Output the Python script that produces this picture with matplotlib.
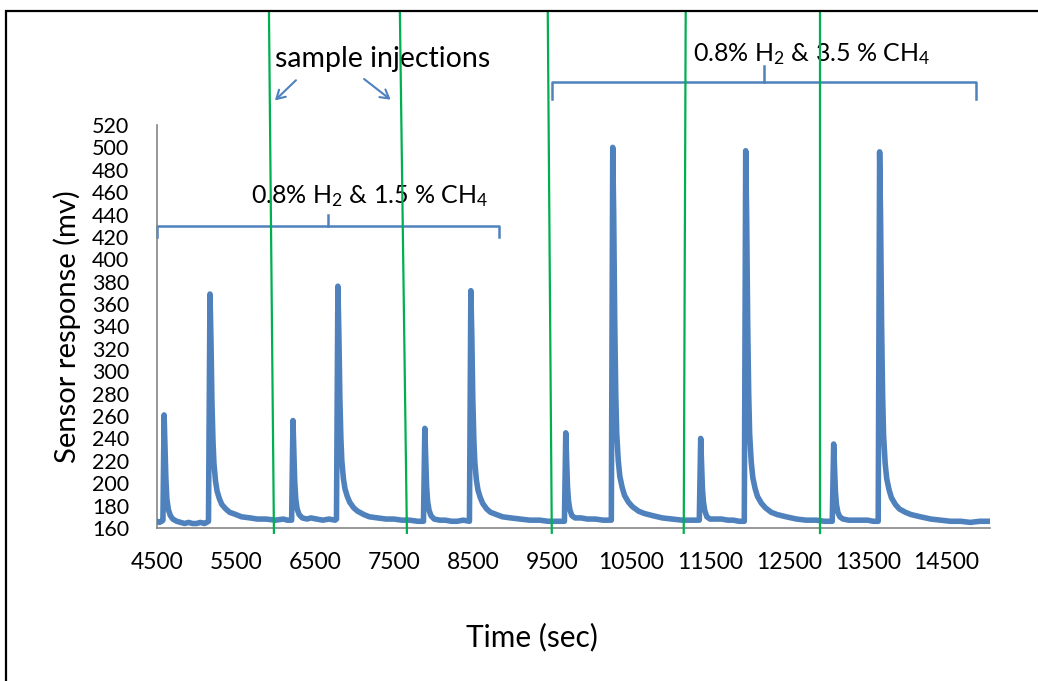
import matplotlib
matplotlib.use("Agg")
import matplotlib.pyplot as plt
from matplotlib.lines import Line2D

plt.rcParams['font.family'] = ['Lato', 'DejaVu Sans']
plt.rcParams['mathtext.fontset'] = 'custom'
plt.rcParams['mathtext.rm'] = 'Lato'
plt.rcParams['mathtext.it'] = 'Lato'

BLUE = '#4F81BD'
GREEN = '#00B050'

# sensor trace (time in s, response in mV)
time_s = [
    4500, 4530, 4560, 4575,
    4590, 4600, 4612, 4625, 4645, 4670, 4700, 4750, 4800, 4850, 4900, 4950, 5000, 5050, 5100, 5130, 5152,
    5171, 5183, 5196, 5209, 5221, 5241, 5261, 5291, 5321, 5371, 5421, 5500, 5570, 5680, 5770, 5880, 6000, 6100, 6150, 6205,
    6222, 6232, 6244, 6257, 6275, 6300, 6340, 6400, 6450, 6520, 6600, 6680, 6755, 6773,
    6791, 6803, 6816, 6829, 6841, 6861, 6881, 6911, 6941, 6991, 7041, 7120, 7190, 7300, 7400, 7500, 7600, 7700, 7800, 7875,
    7892, 7902, 7914, 7927, 7945, 7970, 8010, 8080, 8150, 8230, 8300, 8380, 8457,
    8475, 8487, 8500, 8513, 8525, 8545, 8565, 8595, 8625, 8675, 8725, 8800, 8875, 8980, 9100, 9220, 9350, 9450, 9550, 9660,
    9677, 9687, 9699, 9712, 9730, 9755, 9795, 9870, 9950, 10050, 10150, 10200, 10254,
    10272, 10284, 10297, 10310, 10322, 10342, 10362, 10392, 10422, 10472, 10522, 10600, 10670, 10780, 10900, 11030, 11150, 11260, 11368,
    11386, 11396, 11408, 11421, 11439, 11464, 11504, 11580, 11650, 11730, 11800, 11870, 11938,
    11956, 11968, 11981, 11994, 12006, 12026, 12046, 12076, 12106, 12156, 12206, 12280, 12355, 12470, 12600, 12720, 12850, 12950, 13052,
    13070, 13080, 13092, 13105, 13123, 13148, 13188, 13260, 13350, 13420, 13500, 13570, 13634,
    13652, 13664, 13677, 13690, 13702, 13722, 13742, 13772, 13802, 13852, 13902, 13980, 14050, 14170, 14300, 14420, 14550, 14680, 14800, 14920, 15050,
]
response_mv = [
    166, 165, 166, 167,
    261, 236, 205, 186, 176, 171, 168, 166, 165, 164, 165, 164, 164, 165, 164, 165, 166,
    369, 330, 272, 238, 218, 202, 193, 186, 181, 177, 174, 172, 170, 169, 168, 168, 167, 168, 167, 167,
    256, 232, 202, 186, 177, 172, 169, 168, 169, 168, 167, 168, 167, 168,
    376, 335, 276, 240, 220, 204, 195, 188, 183, 178, 175, 172, 170, 169, 168, 168, 167, 167, 166, 166,
    249, 226, 198, 184, 176, 171, 168, 167, 167, 166, 166, 167, 166,
    372, 332, 274, 239, 219, 203, 194, 187, 182, 177, 174, 172, 170, 169, 168, 167, 167, 166, 166, 166,
    245, 224, 197, 184, 176, 171, 169, 169, 168, 168, 167, 167, 167,
    500, 440, 345, 280, 245, 220, 206, 196, 189, 183, 179, 175, 173, 171, 169, 168, 167, 167, 167,
    240, 220, 195, 183, 175, 170, 168, 168, 168, 167, 167, 166, 166,
    497, 438, 343, 279, 244, 219, 205, 195, 188, 182, 178, 174, 172, 170, 168, 167, 167, 166, 166,
    235, 216, 193, 181, 174, 170, 168, 167, 167, 167, 167, 166, 166,
    496, 437, 342, 278, 243, 218, 204, 194, 187, 181, 177, 174, 172, 170, 168, 167, 166, 166, 165, 166, 166,
]

x_ticks = list(range(4500, 15000, 1000))
y_ticks = list(range(160, 540, 20))

# injection lines: time at axis bottom, time at top of figure
inject_bottom = [5981, 7665, 9500, 11171, 12892]
inject_top = [5918, 7576, 9449, 11196, 12892]

# brackets: start, end, bar level, end level, tick level
bracket1 = (4500, 8829, 430, 420, 440)
bracket2 = (9500, 14867, 558, 543, 573)

fig = plt.figure(figsize=(10.38, 6.81), dpi=100)
ax = fig.add_axes([157 / 1038, 1 - 528 / 681, 833 / 1038, 403 / 681])

ax.plot(time_s, response_mv, color=BLUE, lw=4, solid_joinstyle='round',
        solid_capstyle='round', zorder=3)

ax.set_xlim(4500, 15050)
ax.set_ylim(160, 520)
ax.set_xticks(x_ticks)
ax.set_yticks(y_ticks[:19])
ax.tick_params(axis='x', length=0, pad=17, labelsize=16.5)
ax.tick_params(axis='y', length=0, pad=20, labelsize=15.5)
for s in ['top', 'right']:
    ax.spines[s].set_visible(False)
for s in ['left', 'bottom']:
    ax.spines[s].set_color('#868686')
    ax.spines[s].set_linewidth(1.2)

# green injection lines reaching up to the top of the figure
trans = ax.get_xaxis_transform()
for xb, xt in zip(inject_bottom, inject_top):
    ax.plot([xb, xt], [-0.012, 1.28], color=GREEN, lw=1.6, transform=trans,
            clip_on=False, zorder=4)

# curly brackets
for x0, x1, yb, ye, yt in [bracket1, bracket2]:
    xm = (x0 + x1) / 2
    ax.plot([x0, x0, x1, x1], [ye, yb, yb, ye], color=BLUE, lw=1.8,
            clip_on=False, solid_joinstyle='round')
    ax.plot([xm, xm], [yb, yt], color=BLUE, lw=1.8, clip_on=False)

ax.text(5690, 450, '0.8% H$_2$ & 1.5 % CH$_4$', fontsize=18, va='baseline',
        ha='left', clip_on=False)
ax.text(11285, 577, '0.8% H$_2$ & 3.5 % CH$_4$', fontsize=18, va='baseline',
        ha='left', clip_on=False)
ax.text(5994, 571.7, 'sample injections', fontsize=20.5, va='baseline',
        ha='left', clip_on=False)

ax.annotate('', xy=(5968, 540.2), xytext=(6285, 561.7),
            arrowprops=dict(arrowstyle='->,head_length=0.6,head_width=0.35',
                            color=BLUE, lw=1.5), annotation_clip=False)
ax.annotate('', xy=(7487, 541.1), xytext=(7095, 562.6),
            arrowprops=dict(arrowstyle='->,head_length=0.6,head_width=0.35',
                            color=BLUE, lw=1.5), annotation_clip=False)

fig.text(67.5 / 1038, 1 - 327 / 681, 'Sensor response (mv)', rotation=90,
         ha='center', va='center', fontsize=21)
fig.text(532 / 1038, 1 - 637 / 681, 'Time (sec)', ha='center', va='center',
         fontsize=21.5)

# outer frame (top and left edges)
fig.add_artist(Line2D([8 / 1038, 1], [1 - 11 / 681, 1 - 11 / 681],
                      color='black', lw=1.6, transform=fig.transFigure))
fig.add_artist(Line2D([6 / 1038, 6 / 1038], [0, 1 - 11 / 681],
                      color='black', lw=1.6, transform=fig.transFigure))

fig.savefig('out.png', dpi=100)
